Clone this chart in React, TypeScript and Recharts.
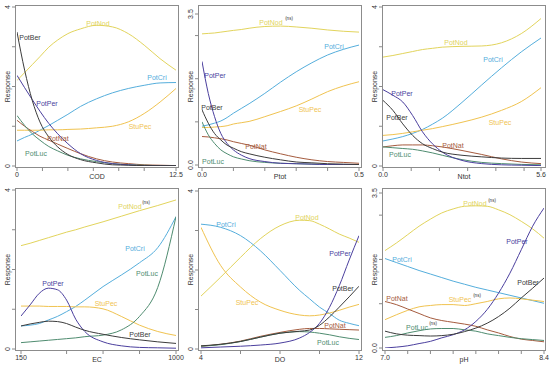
import { LineChart, Line, XAxis, YAxis } from "recharts";

// --- COD ---
const codX = [0, 0.6, 1.2, 1.8, 2.5, 3.2, 4, 5, 6.25, 7.5, 8.75, 10, 11.25, 12.5];
const codPotNod = [2.15, 2.35, 2.55, 2.75, 2.99, 3.17, 3.33, 3.45, 3.54, 3.5, 3.33, 3.04, 2.7, 2.41];
const codPotCri = [0.63, 0.72, 0.8, 0.9, 1.02, 1.15, 1.3, 1.5, 1.69, 1.84, 1.95, 2.03, 2.09, 2.1];
const codStuPec = [0.9, 0.9, 0.9, 0.9, 0.91, 0.91, 0.92, 0.93, 0.96, 1.0, 1.11, 1.32, 1.61, 1.95];
const codPotBer = [3.37, 2.41, 1.65, 1.11, 0.73, 0.48, 0.29, 0.16, 0.08, 0.03, 0.02, 0.01, 0.01, 0.01];
const codPotPer = [2.28, 1.97, 1.67, 1.38, 1.07, 0.81, 0.56, 0.31, 0.14, 0.06, 0.03, 0.01, 0.01, 0.01];
const codPotNat = [1.15, 1.0, 0.87, 0.75, 0.65, 0.55, 0.44, 0.31, 0.18, 0.1, 0.06, 0.03, 0.02, 0.01];
const codPotLuc = [1.27, 1.02, 0.81, 0.65, 0.49, 0.38, 0.27, 0.18, 0.11, 0.06, 0.03, 0.02, 0.01, 0.01];

// --- Ptot ---
const ptotX = [0, 0.02, 0.04, 0.06, 0.08, 0.1, 0.125, 0.15, 0.2, 0.25, 0.3, 0.35, 0.4, 0.45, 0.5];
const ptotPotNod = [3.04, 3.05, 3.06, 3.08, 3.1, 3.12, 3.14, 3.17, 3.21, 3.22, 3.2, 3.17, 3.13, 3.1, 3.08];
const ptotPotCri = [0.9, 0.93, 0.97, 1.02, 1.1, 1.2, 1.31, 1.42, 1.66, 1.92, 2.16, 2.37, 2.55, 2.68, 2.78];
const ptotStuPec = [0.87, 0.87, 0.88, 0.89, 0.91, 0.95, 0.98, 1.01, 1.12, 1.24, 1.37, 1.53, 1.7, 1.83, 1.93];
const ptotPotPer = [2.4, 1.66, 1.12, 0.73, 0.5, 0.35, 0.23, 0.15, 0.08, 0.04, 0.03, 0.02, 0.01, 0.01, 0.01];
const ptotPotBer = [1.28, 0.97, 0.73, 0.58, 0.46, 0.39, 0.31, 0.26, 0.18, 0.12, 0.07, 0.05, 0.03, 0.02, 0.01];
const ptotPotNat = [0.66, 0.65, 0.63, 0.61, 0.58, 0.54, 0.5, 0.46, 0.35, 0.26, 0.18, 0.12, 0.08, 0.06, 0.04];
const ptotPotLuc = [1.0, 0.7, 0.5, 0.35, 0.26, 0.19, 0.14, 0.1, 0.06, 0.04, 0.03, 0.02, 0.01, 0.01, 0.01];

// --- Ntot ---
const ntotX = [0, 0.35, 0.7, 1.05, 1.4, 1.75, 2.1, 2.8, 3.5, 4.2, 4.9, 5.6];
const ntotPotNod = [2.74, 2.78, 2.83, 2.88, 2.93, 2.96, 2.99, 3.01, 3.02, 3.1, 3.33, 3.71];
const ntotPotCri = [0.63, 0.68, 0.74, 0.82, 0.92, 1.05, 1.2, 1.6, 2.04, 2.47, 2.87, 3.22];
const ntotStuPec = [0.77, 0.79, 0.82, 0.86, 0.9, 0.94, 0.99, 1.1, 1.23, 1.4, 1.62, 1.97];
const ntotPotPer = [1.92, 1.78, 1.61, 1.27, 0.86, 0.56, 0.35, 0.14, 0.06, 0.03, 0.02, 0.01];
const ntotPotBer = [1.65, 1.4, 1.06, 0.77, 0.56, 0.44, 0.35, 0.27, 0.23, 0.2, 0.19, 0.19];
const ntotPotNat = [0.48, 0.51, 0.53, 0.53, 0.53, 0.51, 0.48, 0.39, 0.29, 0.18, 0.1, 0.06];
const ntotPotLuc = [0.48, 0.46, 0.44, 0.42, 0.38, 0.33, 0.27, 0.16, 0.09, 0.06, 0.04, 0.03];

// --- EC ---
const ecX = [150, 200, 250, 300, 350, 400, 450, 500, 600, 700, 800, 900, 1000];
const ecPotNod = [2.6, 2.66, 2.73, 2.8, 2.87, 2.94, 3.0, 3.07, 3.2, 3.34, 3.48, 3.61, 3.75];
const ecPotCri = [0.58, 0.6, 0.64, 0.73, 0.82, 0.94, 1.07, 1.23, 1.57, 1.86, 2.17, 2.55, 3.33];
const ecPotLuc = [0.16, 0.18, 0.2, 0.22, 0.24, 0.26, 0.28, 0.31, 0.35, 0.48, 0.82, 1.55, 3.33];
const ecPotPer = [0.83, 1.11, 1.4, 1.53, 1.49, 1.23, 0.75, 0.44, 0.18, 0.08, 0.04, 0.03, 0.02];
const ecStuPec = [1.08, 1.08, 1.08, 1.07, 1.07, 1.07, 1.06, 1.06, 1.01, 0.82, 0.6, 0.44, 0.34];
const ecPotBer = [0.58, 0.63, 0.67, 0.7, 0.69, 0.64, 0.55, 0.47, 0.37, 0.29, 0.23, 0.18, 0.14];

// --- DO ---
const doX = [4, 5, 6, 7, 8, 9, 9.5, 10, 10.5, 11, 11.5, 12];
const doPotCri = [3.16, 3.08, 2.87, 2.49, 1.99, 1.48, 1.27, 1.06, 0.9, 0.73, 0.65, 0.59];
const doPotNod = [1.34, 1.82, 2.32, 2.79, 3.12, 3.26, 3.25, 3.16, 3.04, 2.91, 2.81, 2.7];
const doStuPec = [3.08, 2.11, 1.57, 1.19, 0.98, 0.86, 0.84, 0.86, 0.91, 0.98, 1.06, 1.13];
const doPotPer = [0.03, 0.05, 0.07, 0.1, 0.15, 0.28, 0.42, 0.65, 1.05, 1.6, 2.25, 2.87];
const doPotBer = [0.08, 0.12, 0.19, 0.3, 0.4, 0.45, 0.48, 0.6, 0.81, 1.06, 1.32, 1.59];
const doPotNat = [0.07, 0.12, 0.2, 0.32, 0.42, 0.5, 0.52, 0.52, 0.51, 0.5, 0.49, 0.48];
const doPotLuc = [0.07, 0.11, 0.19, 0.3, 0.4, 0.44, 0.43, 0.4, 0.36, 0.31, 0.27, 0.24];

// --- pH ---
const phX = [7.0, 7.1, 7.2, 7.3, 7.4, 7.5, 7.6, 7.7, 7.8, 7.9, 8.0, 8.1, 8.2, 8.3, 8.4];
const phPotNod = [2.2, 2.37, 2.56, 2.75, 2.91, 3.05, 3.14, 3.2, 3.21, 3.2, 3.12, 3.01, 2.86, 2.69, 2.48];
const phPotCri = [2.02, 1.93, 1.84, 1.75, 1.67, 1.59, 1.51, 1.44, 1.37, 1.31, 1.25, 1.19, 1.13, 1.07, 1.01];
const phStuPec = [0.64, 0.75, 0.85, 0.93, 0.96, 0.98, 0.98, 0.96, 1.0, 1.05, 1.11, 1.13, 1.11, 1.08, 1.05];
const phPotNat = [1.05, 0.98, 0.88, 0.78, 0.68, 0.62, 0.58, 0.54, 0.49, 0.41, 0.34, 0.26, 0.2, 0.17, 0.14];
const phPotLuc = [0.24, 0.28, 0.34, 0.39, 0.43, 0.44, 0.44, 0.41, 0.38, 0.32, 0.28, 0.24, 0.21, 0.19, 0.17];
const phPotBer = [0.38, 0.32, 0.29, 0.28, 0.27, 0.28, 0.31, 0.37, 0.45, 0.56, 0.71, 0.9, 1.13, 1.35, 1.58];
const phPotPer = [0.0, 0.02, 0.05, 0.1, 0.15, 0.23, 0.3, 0.41, 0.6, 0.87, 1.24, 1.69, 2.22, 2.75, 3.16];

const COLORS: Record<string, string> = {
  PotNod: "#E2D45C",
  StuPec: "#F0C350",
  PotCri: "#55AEDC",
  PotPer: "#4B3F9E",
  PotBer: "#3C3C3C",
  PotNat: "#A55B3E",
  PotLuc: "#4F8C70",
};

const FONT = '"Liberation Sans", Arial, Helvetica, sans-serif';
const FW = 164;
const FH = 163;
const AX = 22; // room for axis ticks
const TOPM = 6;

const panels = [
  {
    name: "COD", left: 15, top: 5, x: codX, xDomain: [0, 12.5], xTicks: [0, 2, 4, 6, 8, 10, 12.5], xLabels: ["0", "12.5"],
    yTop: 4, yTicks: [0, 1, 2, 3, 4], yLabels: ["0", "4"], pad: { l: 2, r: 3, t: 2, b: 2 },
    series: { PotNod: codPotNod, PotCri: codPotCri, StuPec: codStuPec, PotNat: codPotNat, PotLuc: codPotLuc, PotPer: codPotPer, PotBer: codPotBer },
  },
  {
    name: "Ptot", left: 198, top: 5, x: ptotX, xDomain: [0, 0.5], xTicks: [0, 0.1, 0.2, 0.3, 0.4, 0.5], xLabels: ["0.0", "0.5"],
    yTop: 3.5, yTicks: [0, 1, 2, 3, 3.5], yLabels: ["0.0", "3.5"], pad: { l: 4, r: 3, t: 9, b: 3 },
    series: { PotNod: ptotPotNod, PotCri: ptotPotCri, StuPec: ptotStuPec, PotNat: ptotPotNat, PotLuc: ptotPotLuc, PotPer: ptotPotPer, PotBer: ptotPotBer },
  },
  {
    name: "Ntot", left: 382, top: 5, x: ntotX, xDomain: [0, 5.6], xTicks: [0, 1, 2, 3, 4, 5, 5.6], xLabels: ["0.0", "5.6"],
    yTop: 4, yTicks: [0, 1, 2, 3, 4], yLabels: ["0", "4"], pad: { l: 1, r: 5, t: 2, b: 2 },
    series: { PotNod: ntotPotNod, PotCri: ntotPotCri, StuPec: ntotStuPec, PotNat: ntotPotNat, PotLuc: ntotPotLuc, PotPer: ntotPotPer, PotBer: ntotPotBer },
  },
  {
    name: "EC", left: 15, top: 188, x: ecX, xDomain: [150, 1000], xTicks: [150, 400, 600, 800, 1000], xLabels: ["150", "1000"],
    yTop: 4, yTicks: [0, 1, 2, 3, 4], yLabels: ["0", "4"], pad: { l: 6, r: 3, t: 2, b: 2 },
    series: { PotNod: ecPotNod, PotCri: ecPotCri, StuPec: ecStuPec, PotLuc: ecPotLuc, PotPer: ecPotPer, PotBer: ecPotBer },
  },
  {
    name: "DO", left: 198, top: 188, x: doX, xDomain: [4, 12], xTicks: [4, 6, 8, 10, 12], xLabels: ["4", "12"],
    yTop: 4, yTicks: [0, 1, 2, 3, 4], yLabels: ["0", "4"], pad: { l: 3, r: 3, t: 3, b: 2 },
    series: { PotNod: doPotNod, PotCri: doPotCri, StuPec: doStuPec, PotNat: doPotNat, PotLuc: doPotLuc, PotPer: doPotPer, PotBer: doPotBer },
  },
  {
    name: "pH", left: 382, top: 188, x: phX, xDomain: [7.0, 8.4], xTicks: [7.0, 7.2, 7.4, 7.6, 7.8, 8.0, 8.2, 8.4], xLabels: ["7.0", "8.4"],
    yTop: 3.5, yTicks: [0, 1, 2, 3, 3.5], yLabels: ["0.0", "3.5"], pad: { l: 3, r: 2, t: 5, b: 3 },
    series: { PotNod: phPotNod, PotCri: phPotCri, StuPec: phStuPec, PotNat: phPotNat, PotLuc: phPotLuc, PotPer: phPotPer, PotBer: phPotBer },
  },
];

// curve labels: [text, centre x, centre y, (ns) x, (ns) y]
const curveLabels: [string, number, number, number?, number?][] = [
  ["PotNod", 98, 23], ["PotBer", 30, 37], ["PotCri", 157, 77], ["PotPer", 47, 103],
  ["StuPec", 140, 126], ["PotNat", 58, 138], ["PotLuc", 36, 153],
  ["PotNod", 271, 22, 289, 18], ["PotCri", 334, 46], ["PotPer", 215, 75], ["PotBer", 212, 107],
  ["StuPec", 310, 109], ["PotNat", 256, 146], ["PotLuc", 213, 161],
  ["PotNod", 456, 42], ["PotCri", 493, 59], ["PotPer", 402, 93], ["PotBer", 397, 117],
  ["StuPec", 500, 122], ["PotNat", 453, 145], ["PotLuc", 400, 154],
  ["PotNod", 130, 206, 146, 202], ["PotCri", 135, 248], ["PotLuc", 147, 273], ["PotPer", 53, 283],
  ["StuPec", 106, 303], ["PotBer", 140, 334],
  ["PotCri", 226, 224], ["PotNod", 307, 217], ["PotPer", 340, 253], ["PotBer", 343, 288],
  ["StuPec", 247, 302], ["PotNat", 335, 325], ["PotLuc", 328, 342],
  ["PotNod", 475, 203, 492, 200], ["PotPer", 517, 241], ["PotCri", 402, 259], ["PotBer", 528, 282],
  ["PotNat", 397, 298], ["StuPec", 460, 299, 477, 295], ["PotLuc", 417, 327, 433, 323],
];

function Panel({ p }: { p: any }) {
  const names = Object.keys(p.series);
  const rows = p.x.map((x: number, i: number) => {
    const r: any = { x };
    names.forEach((n) => (r[n] = p.series[n][i]));
    return r;
  });
  const xLast = p.xDomain[1];

  const xTick = (props: any) => {
    const v = props.payload.value;
    const lbl = v === p.xDomain[0] ? p.xLabels[0] : v === xLast ? p.xLabels[1] : null;
    if (!lbl) return <g />;
    return (
      <text x={props.x} y={props.y + 1} textAnchor="middle" dominantBaseline="central" fontSize={7} fontFamily={FONT} fill="#333">
        {lbl}
      </text>
    );
  };
  const yTick = (props: any) => {
    const v = props.payload.value;
    const lbl = v === 0 ? p.yLabels[0] : v === p.yTop ? p.yLabels[1] : null;
    if (!lbl) return <g />;
    const tx = props.x - 3;
    return (
      <text x={tx} y={props.y} transform={`rotate(-90 ${tx} ${props.y})`} textAnchor="middle" dominantBaseline="central" fontSize={7} fontFamily={FONT} fill="#333">
        {lbl}
      </text>
    );
  };

  return (
    <div style={{ position: "absolute", left: p.left - AX, top: p.top - TOPM }}>
      <LineChart width={FW + AX + 6} height={FH + TOPM + AX} data={rows} margin={{ top: TOPM, right: 6, left: 0, bottom: 0 }}>
        <XAxis
          dataKey="x"
          type="number"
          domain={p.xDomain}
          ticks={p.xTicks}
          interval={0}
          allowDataOverflow
          padding={{ left: p.pad.l, right: p.pad.r }}
          height={AX}
          axisLine={false}
          tickSize={3}
          tickLine={{ stroke: "#8a8a8a" }}
          tick={xTick}
        />
        <YAxis
          type="number"
          domain={[0, p.yTop]}
          ticks={p.yTicks}
          interval={0}
          allowDataOverflow
          padding={{ top: p.pad.t, bottom: p.pad.b }}
          width={AX}
          axisLine={false}
          tickSize={3}
          tickLine={{ stroke: "#8a8a8a" }}
          tick={yTick}
        />
        {names.map((n) => (
          <Line key={n} dataKey={n} type="monotone" stroke={COLORS[n]} strokeWidth={1} dot={false} isAnimationActive={false} />
        ))}
      </LineChart>
      <div
        style={{
          position: "absolute", left: AX, top: TOPM, width: FW, height: FH,
          border: "1px solid #8c8c8c", boxSizing: "border-box", pointerEvents: "none",
        }}
      />
    </div>
  );
}

export default function App() {
  return (
    <div style={{ position: "absolute", left: 0, top: 0, width: 550, height: 366, background: "#fff", overflow: "hidden" }}>
      {panels.map((p) => (
        <Panel key={p.name} p={p} />
      ))}
      <svg width={550} height={366} style={{ position: "absolute", left: 0, top: 0, pointerEvents: "none" }} fontFamily={FONT}>
        {panels.map((p) => (
          <g key={p.name}>
            <text x={p.left + FW / 2} y={p.top + FH + 8} textAnchor="middle" dominantBaseline="central" fontSize={7} fill="#333">
              {p.name}
            </text>
            <text
              x={p.left - 8}
              y={p.top + FH / 2}
              transform={`rotate(-90 ${p.left - 8} ${p.top + FH / 2})`}
              textAnchor="middle"
              dominantBaseline="central"
              fontSize={7}
              fill="#333"
            >
              Response
            </text>
          </g>
        ))}
        {curveLabels.map(([t, x, y, nx, ny], i) => (
          <g key={i}>
            <text x={x} y={y} textAnchor="middle" dominantBaseline="central" fontSize={7} fill={COLORS[t]}>
              {t}
            </text>
            {nx !== undefined && (
              <text x={nx} y={ny} textAnchor="middle" dominantBaseline="central" fontSize={4.5} fill="#333">
                (ns)
              </text>
            )}
          </g>
        ))}
      </svg>
    </div>
  );
}
